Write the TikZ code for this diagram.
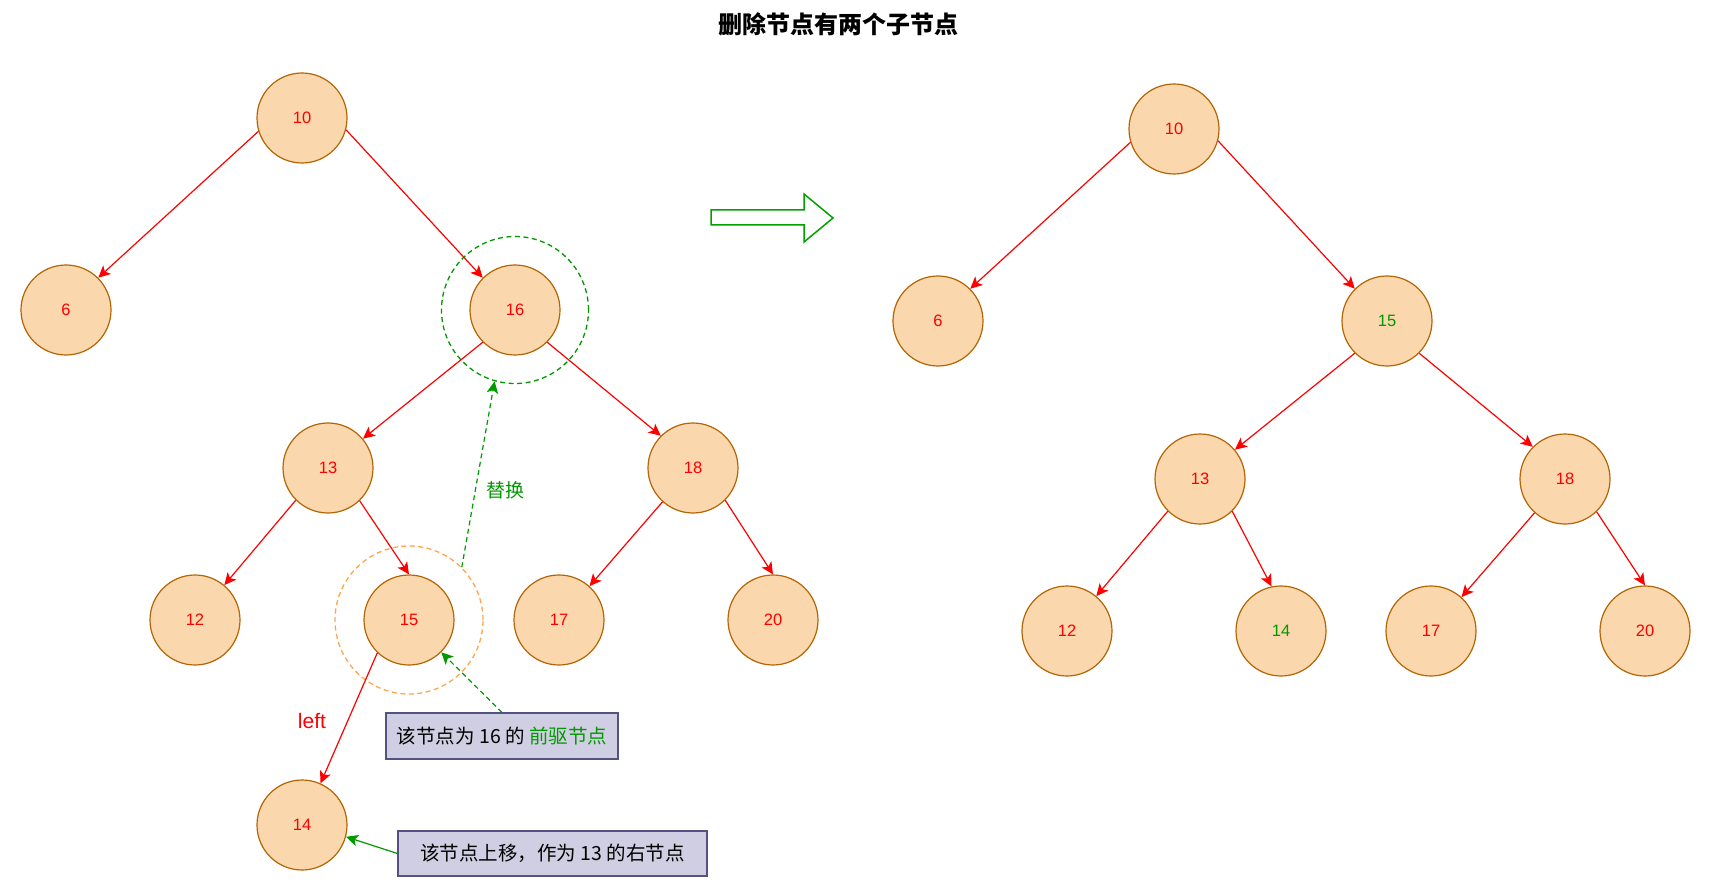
\documentclass[tikz,border=0pt]{standalone}
\usepackage{fontspec}
\setmainfont{Liberation Sans}
\newfontfamily\cjk{Noto Sans CJK SC}
\usetikzlibrary{arrows.meta}
\definecolor{nodefill}{HTML}{FAD7AC}
\definecolor{nodeline}{HTML}{B46504}
\definecolor{edgered}{HTML}{FF0000}
\definecolor{dgreen}{HTML}{009900}
\definecolor{arrgreen}{HTML}{00A000}
\definecolor{boxfill}{HTML}{D0CEE2}
\definecolor{boxline}{HTML}{56517E}
\definecolor{lorange}{HTML}{FFA64D}
\begin{document}
\begin{tikzpicture}[x=1pt,y=-1pt,
  treenode/.style={circle, draw=nodeline, fill=nodefill, line width=1.2pt, minimum size=90pt, inner sep=0pt, text=edgered, font=\fontsize{16.5}{19}\selectfont},
  greennum/.style={text=dgreen},
  ringnode/.style={circle, dashed, dash pattern=on 5pt off 3.5pt, line width=1.3pt, inner sep=0pt},
  tip/.style={-{Stealth[length=12pt,width=11.5pt,inset=3pt]}},
  tedge/.style={draw=edgered, line width=1.2pt, tip},
  gdash/.style={draw=dgreen, line width=1.2pt, dash pattern=on 5pt off 3.5pt, tip},
  gsolid/.style={draw=dgreen, line width=1.2pt, tip},
  notebox/.style={draw=boxline, fill=boxfill, line width=1.2pt, inner sep=0pt, font=\cjk\fontsize{19.5}{22}\selectfont},
  bigarrow/.style={draw=arrgreen, line width=1.5pt, fill=white}
]
\useasboundingbox (0,0) rectangle (1722,893);

% title
\node[font=\cjk\bfseries\fontsize{24}{27}\selectfont] (title) at (838,24) {删除节点有两个子节点};

% rings
\node[ringnode, draw=dgreen, minimum size=147pt] (c16) at (515,310) {};
\node[ringnode, draw=lorange, minimum size=148pt] (c15) at (409,620) {};

% left tree
\node[treenode] (L10) at (302,118) {10};
\node[treenode] (L6)  at (66,310) {6};
\node[treenode] (L16) at (515,310) {16};
\node[treenode] (L13) at (328,468) {13};
\node[treenode] (L18) at (693,468) {18};
\node[treenode] (L12) at (195,620) {12};
\node[treenode] (L15) at (409,620) {15};
\node[treenode] (L17) at (559,620) {17};
\node[treenode] (L20) at (773,620) {20};
\node[treenode] (L14) at (302,825) {14};

\draw[tedge] (L10.-163) -- (L6.45);
\draw[tedge] (L10.-15) -- (L16.135);
\draw[tedge] (L16.-135) -- (L13.40);
\draw[tedge] (L16.-45) -- (L18.135);
\draw[tedge] (L13.-135) -- (L12.50);
\draw[tedge] (L13.-46) -- (L15.90);
\draw[tedge] (L18.-132) -- (L17.48);
\draw[tedge] (L18.-45) -- (L20.90);
\draw[tedge] (L15.-134) -- (L14.66);

\node[text=edgered, font=\fontsize{21}{24}\selectfont] (leftlbl) at (312,721) {left};

% replace arrow
\draw[gdash] (c15.45) -- (c16.-106);
\node[text=dgreen, font=\cjk\fontsize{19}{22}\selectfont] (swap) at (505,490) {替换};

% note boxes
\node[notebox, minimum width=232pt, minimum height=46pt] (box1) at (502,736) {该节点为 16 的 \textcolor{dgreen}{前驱节点}};
\node[notebox, minimum width=309pt, minimum height=45pt] (box2) at (552.5,853.5) {该节点上移，作为 13 的右节点};
\draw[gdash] (box1.north) -- (L15.-45);
\draw[gsolid] (box2.west) -- (L14.-15);

% big arrow
\draw[bigarrow] (711,210) -- (804,210) -- (804,194) -- (833,218) -- (804,242) -- (804,225) -- (711,225) -- cycle;

% right tree
\node[treenode] (R10) at (1174,129) {10};
\node[treenode] (R6)  at (938,321) {6};
\node[treenode, greennum] (R15) at (1387,321) {15};
\node[treenode] (R13) at (1200,479) {13};
\node[treenode] (R18) at (1565,479) {18};
\node[treenode] (R12) at (1067,631) {12};
\node[treenode, greennum] (R14) at (1281,631) {14};
\node[treenode] (R17) at (1431,631) {17};
\node[treenode] (R20) at (1645,631) {20};

\draw[tedge] (R10.-163) -- (R6.45);
\draw[tedge] (R10.-15) -- (R15.135);
\draw[tedge] (R15.-135) -- (R13.40);
\draw[tedge] (R15.-45) -- (R18.135);
\draw[tedge] (R13.-135) -- (R12.50);
\draw[tedge] (R13.-45) -- (R14.102);
\draw[tedge] (R18.-132) -- (R17.48);
\draw[tedge] (R18.-46) -- (R20.90);
\end{tikzpicture}
\end{document}
